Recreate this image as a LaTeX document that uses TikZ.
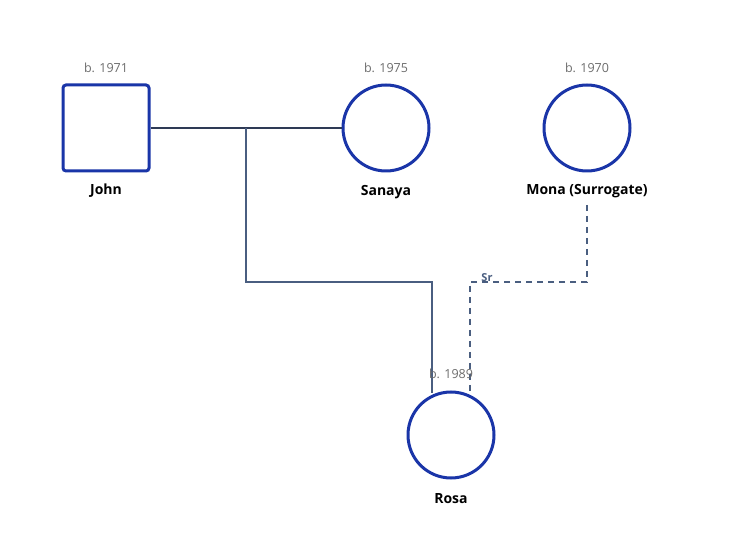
\documentclass[tikz,border=0pt]{standalone}
\usepackage{fontspec}
\setmainfont{Open Sans}
\definecolor{nodeblue}{HTML}{1A35A8}
\definecolor{linec}{HTML}{4A5E80}
\definecolor{coupc}{HTML}{2E3A55}
\begin{document}
\begin{tikzpicture}[x=1pt,y=-1pt,
  person/.style={draw=nodeblue,line width=3pt,fill=white},
  yr/.style={text=gray!85!black,font=\fontsize{12.5}{14}\selectfont},
  nm/.style={font=\bfseries\fontsize{14}{16}\selectfont},
  child/.style={draw=linec,line width=1.5pt},
  surr/.style={draw=linec,line width=1.5pt,dash pattern=on 6pt off 5pt}]
\useasboundingbox (0,0) rectangle (734,553);
\node[person,rectangle,rounded corners=3pt,minimum size=86pt] (john) at (106,128) {};
\node[person,circle,minimum size=86pt,inner sep=0] (sanaya) at (386,128) {};
\node[person,circle,minimum size=86pt,inner sep=0] (mona) at (587,128) {};
\node[person,circle,minimum size=86pt,inner sep=0] (rosa) at (451,435) {};
\node[yr] at (106,68) {b. 1971};
\node[yr] at (386,68) {b. 1975};
\node[yr] at (587,68) {b. 1970};
\node[nm] (jn) at (106,191) {John};
\node[nm] at (386,192) {Sanaya};
\node[nm] (mn) at (587,191) {Mona (Surrogate)};
\node[nm] at (451,499) {Rosa};
\draw[draw=coupc,line width=2.5pt] (john.east) -- (sanaya.west);
\coordinate (m) at (246,128);
\draw[child] (m) -- (246,282) -- (432,282) -- (432,393);
\draw[surr] (587,205) -- (587,282) -- (470,282) -- (470,395);
\node[font=\bfseries\fontsize{11}{13}\selectfont,text=linec] at (487,278) {Sr};
\node[yr] at (451,374) {b. 1989};
\end{tikzpicture}
\end{document}
